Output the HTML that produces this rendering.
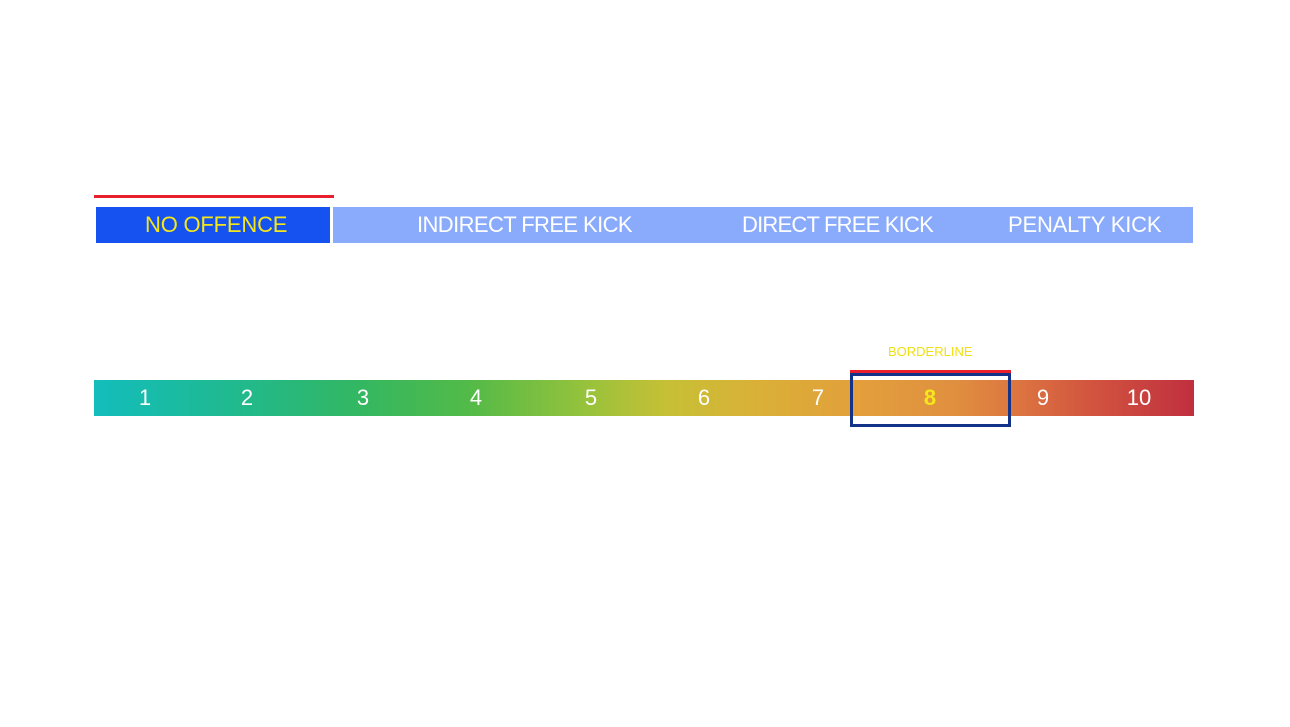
<!DOCTYPE html>
<html><head><style>
body{margin:0;width:1290px;height:727px;background:#fff;position:relative;overflow:hidden;font-family:"Liberation Sans",sans-serif}
.a{position:absolute}
.t{position:absolute;color:#fff;font-size:22px;top:210px;line-height:30px;white-space:nowrap}
.n{position:absolute;color:#fff;font-size:22px;top:383px;line-height:30px;transform:translateX(-50%)}
</style></head><body>
<div class="a" style="left:94px;top:195px;width:240px;height:3px;background:#e8202e"></div>
<div class="a" style="left:96px;top:207px;width:234px;height:36px;background:#1652f0"></div>
<div class="a" style="left:333px;top:207px;width:860px;height:36px;background:#8aabfb"></div>
<div class="t" style="left:145px;color:#f5e61a;letter-spacing:-0.2px">NO OFFENCE</div>
<div class="t" style="left:417px;letter-spacing:-0.6px">INDIRECT FREE KICK</div>
<div class="t" style="left:742px;letter-spacing:-0.8px">DIRECT FREE KICK</div>
<div class="t" style="left:1008px;letter-spacing:-0.2px">PENALTY KICK</div>
<div class="a" style="left:94px;top:380px;width:1100px;height:36px;background:linear-gradient(90deg,#12bdbc 0%,#22b98a 14%,#33b762 24%,#52ba48 34%,#92c23c 44%,#c6c036 52%,#d9b137 60%,#e2a03b 69%,#e0903f 78%,#dc7540 84%,#d3573f 90%,#c02f3f 100%)"></div>
<div class="n" style="left:145px">1</div>
<div class="n" style="left:247px">2</div>
<div class="n" style="left:363px">3</div>
<div class="n" style="left:476px">4</div>
<div class="n" style="left:591px">5</div>
<div class="n" style="left:704px">6</div>
<div class="n" style="left:818px">7</div>
<div class="n" style="left:930px;color:#f5e61a;font-weight:bold">8</div>
<div class="n" style="left:1043px">9</div>
<div class="n" style="left:1139px">10</div>
<div class="a" style="left:850px;top:370px;width:161px;height:3px;background:#e8202e"></div>
<div class="a" style="left:850px;top:373px;width:155px;height:48px;border:3px solid #13338a"></div>
<div class="a" style="left:888px;top:344px;color:#f0e010;font-size:13px">BORDERLINE</div>
</body></html>
